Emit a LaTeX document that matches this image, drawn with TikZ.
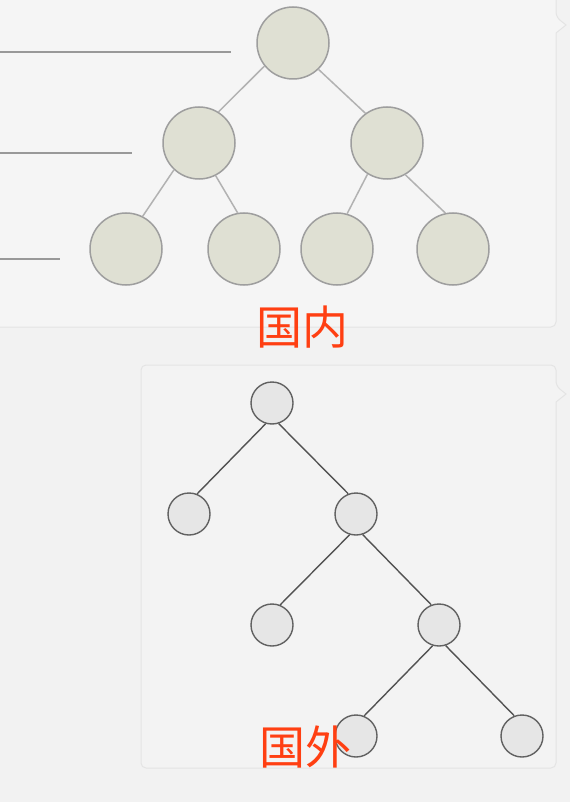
\documentclass[tikz,border=0pt]{standalone}
\usepackage{fontspec}
\newfontfamily\cjk{Noto Sans CJK SC}
\usetikzlibrary{positioning}
\definecolor{pagebg}{HTML}{F2F2F2}
\definecolor{panelbg}{HTML}{F5F5F5}
\definecolor{panelln}{HTML}{E4E4E4}
\definecolor{nodeA}{HTML}{DFE0D3}
\definecolor{nodeB}{HTML}{E6E6E6}
\definecolor{labred}{HTML}{FF3F12}
\tikzset{
  bignode/.style={circle,draw=black!38,fill=nodeA,line width=1.5pt,minimum size=72pt,inner sep=0pt},
  smallnode/.style={circle,draw=black!62,fill=nodeB,line width=1.4pt,minimum size=42pt,inner sep=0pt},
  bigedge/.style={draw=black!30,line width=1.5pt},
  smalledge/.style={draw=black!68,line width=1.4pt},
  levelline/.style={draw=black!40,line width=1.5pt},
  caption/.style={text=labred,font=\cjk\fontsize{46}{46}\selectfont,inner sep=0pt}
}
\begin{document}
\begin{tikzpicture}[x=1pt,y=-1pt]
\useasboundingbox[fill=pagebg] (0,0) rectangle (570,802);
% top panel
\draw[panelln,fill=panelbg,line width=1pt,rounded corners=5pt] (-10,-10) -- (556,-10) -- (556,17) [sharp corners] -- (566,25) -- (556,33) [rounded corners=5pt] -- (556,327) -- (-10,327);
% bottom panel
\draw[panelln,fill=pagebg!60!panelbg,line width=1pt,rounded corners=5pt] (141,365) -- (556,365) -- (556,386) [sharp corners] -- (566,394) -- (556,402) [rounded corners=5pt] -- (556,768) -- (141,768) -- cycle;
% level lines
\coordinate (L1) at (0,52);
\coordinate (L1e) at (231,52);
\coordinate (L2) at (0,153);
\coordinate (L2e) at (132,153);
\coordinate (L3) at (0,259);
\coordinate (L3e) at (60,259);
\draw[levelline] (L1) -- (L1e);
\draw[levelline] (L2) -- (L2e);
\draw[levelline] (L3) -- (L3e);
% complete tree
\node[bignode] (A) at (293,43) {};
\node[bignode] (B) at (199,143) {};
\node[bignode] (C) at (387,143) {};
\node[bignode] (D) at (126,249) {};
\node[bignode] (E) at (244,249) {};
\node[bignode] (F) at (337,249) {};
\node[bignode] (G) at (453,249) {};
\foreach \p/\a/\c/\b in {A/219/B/58,A/-46/C/126,B/227/D/63,B/-63/E/100,C/238/F/74,C/-60/G/102}
  \draw[bigedge] (\p.\a) -- (\c.\b);
\node[caption] (T1) at (302,327) {国内};
% full tree
\node[smallnode] (P) at (272,403) {};
\node[smallnode] (Q) at (189,514) {};
\node[smallnode] (R) at (356,514) {};
\node[smallnode] (S) at (272,625) {};
\node[smallnode] (U) at (439,625) {};
\node[smallnode] (V) at (356,736) {};
\node[smallnode] (W) at (522,736) {};
\foreach \p/\l/\r in {P/Q/R,R/S/U,U/V/W}{
  \draw[smalledge] (\p.-107) -- (\l.68);
  \draw[smalledge] (\p.-72) -- (\r.111);
}
\node[caption] (T2) at (305,747) {国外};
\end{tikzpicture}
\end{document}
